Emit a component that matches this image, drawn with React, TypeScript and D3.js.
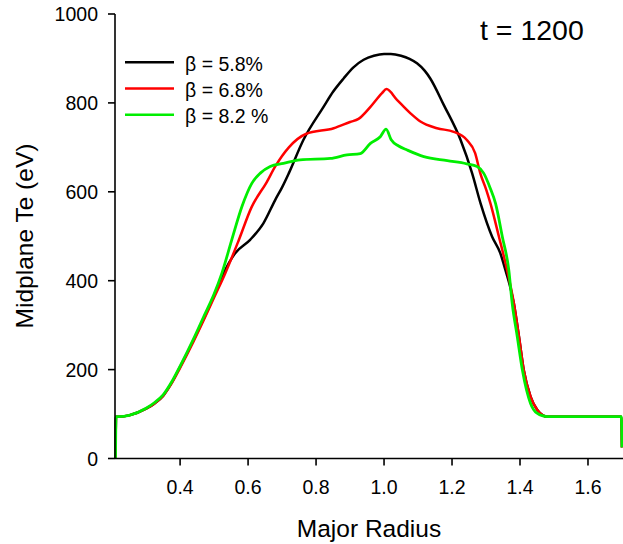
import React from "react";
import * as d3 from "d3";

const xTicks = [0.4, 0.6, 0.8, 1.0, 1.2, 1.4, 1.6];
const yTicks = [0, 200, 400, 600, 800, 1000];
const legendLabels = ["\u03b2 = 5.8%", "\u03b2 = 6.8%", "\u03b2 = 8.2 %"];
const seriesColors = ["#000000", "#ff0000", "#00ee00"];

const blackR = [0.21, 0.2115, 0.218, 0.25, 0.3, 0.325, 0.35, 0.375, 0.4, 0.44, 0.47, 0.5, 0.528, 0.562, 0.606, 0.645, 0.68, 0.7, 0.72, 0.763, 0.822, 0.85, 0.881, 0.91, 0.94, 0.97, 1.0, 1.02, 1.05, 1.075, 1.097, 1.12, 1.136, 1.176, 1.225, 1.259, 1.284, 1.318, 1.342, 1.357, 1.382, 1.397, 1.411, 1.431, 1.451, 1.48, 1.6, 1.698, 1.7];
const blackT = [0, 94, 94, 97, 112, 124, 141, 170, 206, 267, 315, 366, 417, 462, 492, 529, 582, 610, 642, 717, 791, 825, 855, 880, 897, 906, 910, 910, 906, 899, 889, 872, 855, 795, 717, 642, 574, 499, 462, 424, 349, 274, 199, 139, 109, 94, 94, 94, 25];

const redR = [0.21, 0.2115, 0.218, 0.25, 0.3, 0.325, 0.35, 0.375, 0.4, 0.44, 0.47, 0.5, 0.533, 0.572, 0.61, 0.655, 0.68, 0.72, 0.77, 0.852, 0.9, 0.925, 0.96, 0.994, 1.007, 1.038, 1.077, 1.107, 1.156, 1.205, 1.243, 1.268, 1.283, 1.301, 1.313, 1.338, 1.362, 1.382, 1.397, 1.411, 1.431, 1.451, 1.48, 1.6, 1.698, 1.7];
const redT = [0, 94, 94, 97, 112, 124, 141, 169, 204, 264, 312, 362, 417, 490, 565, 622, 657, 700, 730, 743, 757, 764, 791, 822, 831, 807, 777, 758, 743, 735, 717, 687, 642, 604, 574, 499, 424, 349, 274, 199, 139, 109, 94, 94, 94, 25];

const greenR = [0.21, 0.2115, 0.218, 0.25, 0.3, 0.325, 0.35, 0.375, 0.4, 0.44, 0.47, 0.5, 0.523, 0.552, 0.582, 0.611, 0.636, 0.665, 0.704, 0.753, 0.842, 0.891, 0.93, 0.96, 0.989, 1.006, 1.021, 1.043, 1.068, 1.117, 1.186, 1.243, 1.274, 1.293, 1.313, 1.328, 1.348, 1.367, 1.377, 1.392, 1.407, 1.431, 1.45, 1.48, 1.6, 1.698, 1.7];
const greenT = [0, 94, 94, 97, 113, 126, 143, 172, 208, 270, 320, 370, 417, 492, 567, 619, 642, 657, 664, 672, 675, 683, 686, 709, 724, 741, 717, 703, 694, 679, 670, 663, 657, 642, 607, 574, 499, 424, 349, 274, 199, 124, 102, 94, 94, 94, 25];

const seriesR = [blackR, redR, greenR];
const seriesT = [blackT, redT, greenT];

export default function App() {
  const x = d3.scaleLinear().domain([0.2085, 1.703]).range([115, 623]);
  const y = d3.scaleLinear().domain([0, 1000]).range([458.5, 14]);
  const line = d3
    .line<[number, number]>()
    .x((d) => x(d[0]))
    .y((d) => y(d[1]))
    .curve(d3.curveMonotoneX);
  const font = "'Liberation Sans', Arial, sans-serif";
  const x0 = x.range()[0];
  const y0 = y(0);
  return (
    <svg
      width={623}
      height={544}
      style={{ position: "fixed", left: 0, top: 0, background: "#fff" }}
      fontFamily={font}
    >
      <rect width={623} height={544} fill="#fff" />
      {seriesR.map((rs, i) => (
        <path
          key={i}
          d={line(rs.map((r, k) => [r, seriesT[i][k]] as [number, number])) || ""}
          fill="none"
          stroke={seriesColors[i]}
          strokeWidth={i === 2 ? 2.8 : 2.5}
          strokeLinejoin="round"
        />
      ))}
      <line x1={x0} x2={x0} y1={y(1000)} y2={y0} stroke="#000" strokeWidth={1.6} />
      <line x1={x0} x2={623} y1={y0} y2={y0} stroke="#000" strokeWidth={1.6} />
      {yTicks.map((t) => (
        <g key={t}>
          <line x1={x0 - 7} x2={x0} y1={y(t)} y2={y(t)} stroke="#000" strokeWidth={1.6} />
          <text x={98} y={y(t) + 7} textAnchor="end" fontSize={19.5} fill="#000">
            {t}
          </text>
        </g>
      ))}
      {xTicks.map((t) => (
        <g key={t}>
          <line x1={x(t)} x2={x(t)} y1={y0} y2={y0 + 7} stroke="#000" strokeWidth={1.6} />
          <text x={x(t)} y={494} textAnchor="middle" fontSize={19.5} fill="#000">
            {t.toFixed(1)}
          </text>
        </g>
      ))}
      <text x={369} y={537} textAnchor="middle" fontSize={24.5} fill="#000">
        Major Radius
      </text>
      <text
        transform={`translate(33,236) rotate(-90)`}
        textAnchor="middle"
        fontSize={24.5}
        fill="#000"
      >
        Midplane Te (eV)
      </text>
      {legendLabels.map((lab, i) => (
        <g key={lab}>
          <line x1={125} x2={174} y1={62.3 + i * 26.2} y2={62.3 + i * 26.2} stroke={seriesColors[i]} strokeWidth={2.5} />
          <text x={185} y={70.5 + i * 26.2} fontSize={19.5} fill="#000">
            {lab}
          </text>
        </g>
      ))}
      <text x={480} y={40} fontSize={28.5} fill="#000">
        t = 1200
      </text>
    </svg>
  );
}
